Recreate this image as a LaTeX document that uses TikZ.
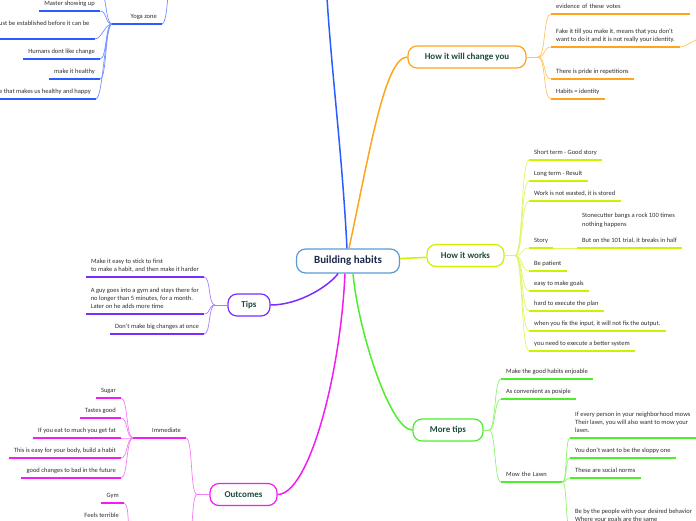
\documentclass[tikz,border=0pt]{standalone}
\usepackage{fontspec}
\setmainfont{Carlito}

\definecolor{rootline}{HTML}{5B9BD5}
\definecolor{roottext}{HTML}{1B2A48}
\definecolor{topictext}{HTML}{1D4B3B}
\definecolor{leaftext}{HTML}{2E2E2E}
\definecolor{bluB}{HTML}{2B5CFF}
\definecolor{bluL}{HTML}{7391FF}
\definecolor{oraB}{HTML}{FFA41E}
\definecolor{oraL}{HTML}{FFC460}
\definecolor{limB}{HTML}{CFF000}
\definecolor{limL}{HTML}{E0F560}
\definecolor{greB}{HTML}{4DEF2A}
\definecolor{greL}{HTML}{8CF470}
\definecolor{magB}{HTML}{F01EF0}
\definecolor{magL}{HTML}{F57AF5}
\definecolor{purB}{HTML}{7B2CFF}
\definecolor{purL}{HTML}{A87AFF}

\tikzset{
  root/.style={draw=rootline, line width=1.2pt, fill=white, rounded corners=9pt,
    minimum width=103pt, minimum height=24pt, text=roottext,
    font=\fontsize{11}{13}\selectfont\bfseries},
  topic/.style={draw=#1, line width=1.2pt, fill=white, rounded corners=9pt,
    minimum height=22pt, inner xsep=12pt, text=topictext,
    font=\fontsize{9}{11}\selectfont\bfseries},
  leaf/.style={inner xsep=5pt, inner ysep=2.5pt, text=leaftext, align=left,
    font=\fontsize{6.5}{8.3}\selectfont, execute at end node=\strut},
  rleaf/.style={leaf, anchor=south west},
  lleaf/.style={leaf, anchor=south east},
  branch/.style={line width=1.5pt, draw=#1},
  uline/.style={line width=1.5pt, draw=#1},
  twig/.style={line width=0.7pt, to path={.. controls +(#1,0) and +(-#1,0) .. (\tikztotarget)}},
}

\begin{document}
\begin{tikzpicture}[x=1pt, y=-1pt]
    \useasboundingbox (0,0) rectangle (696,520);

    \node[root] (root) at (348,261) {Building habits};
    \node[topic=oraB, minimum width=118pt] (change) at (467,57) {How it will change you};
    \node[topic=limB, minimum width=77pt] (works) at (465.5,255.5) {How it works};
    \node[topic=greB, minimum width=70pt] (more) at (448,430) {More tips};
    \node[topic=magB, minimum width=67pt] (outcomes) at (243.5,494.5) {Outcomes};
    \node[topic=purB, minimum width=42pt] (tips) at (249,305) {Tips};

    \coordinate (bTop) at (326,-20);
    \draw[branch=bluB] ([xshift=-1pt]root.north) .. controls (342,150) and (330,60) .. (bTop);
    \draw[branch=oraB] ([xshift=1pt]root.north) .. controls (370,150) and (385,57) .. (change.west);
    \draw[branch=limB] (root) -- (works);
    \draw[branch=greB] ([xshift=5pt]root.south) .. controls (358,330) and (390,430) .. (more.west);
    \draw[branch=magB] ([xshift=-3pt]root.south) .. controls (340,380) and (308,494.5) .. (outcomes.east);
    \draw[branch=purB] ([xshift=-10pt]root.south) .. controls (330,285) and (300,305) .. (tips.east);

    % how it will change you
    \coordinate (oF) at (538,57);
    \draw[oraL, line width=0.8pt] (change.east) -- (oF);
    \node[rleaf, text width=129pt] (c1) at (551,14) {evidence of these votes};
    \node[rleaf] (c2) at (551,47) {Fake it till you make it, means that you don't\\want to do it and it is not really your identity.};
    \node[rleaf] (c3) at (551,79) {There is pride in repetitions};
    \node[rleaf] (c4) at (551,99) {Habits = identity};
    \foreach \n in {c1,c2,c3,c4} {
        \draw[oraL, twig=8] (oF) to (\n.south west);
        \draw[uline=oraB] (\n.south west) -- (\n.south east);
    }
    \coordinate (oX) at (706,36);
    \draw[oraL, twig=6] (c2.south east) to (oX);

    % how it works
    \coordinate (wF) at (515,255.5);
    \draw[limL, line width=0.8pt] (works.east) -- (wF);
    \node[rleaf] (w1) at (529,160) {Short term - Good story};
    \node[rleaf] (w2) at (529,181) {Long term - Result};
    \node[rleaf] (w3) at (529,201) {Work is not wasted, it is stored};
    \node[rleaf] (w4) at (529,248) {Story};
    \node[rleaf] (w5) at (529,271) {Be patient};
    \node[rleaf] (w6) at (529,291) {easy to make goals};
    \node[rleaf] (w7) at (529,311) {hard to execute the plan};
    \node[rleaf] (w8) at (529,331) {when you fix the input, it will not fix the output.};
    \node[rleaf] (w9) at (529,351) {you need to execute a better system};
    \foreach \i in {1,...,9} {
        \draw[limL, twig=8] (wF) to (w\i.south west);
        \draw[uline=limB] (w\i.south west) -- (w\i.south east);
    }
    \node[rleaf] (s1) at (577,248) {Stonecutter bangs a rock 100 times\\nothing happens\\[8.3pt]But on the 101 trial, it breaks in half};
    \draw[limL, line width=0.8pt] (w4.south east) -- (s1.south west);
    \draw[uline=limB] (s1.south west) -- (s1.south east);

    % more tips
    \coordinate (mF) at (489,430);
    \draw[greL, line width=0.8pt] (more.east) -- (mF);
    \node[rleaf] (m1) at (501,379) {Make the good habits enjoable};
    \node[rleaf] (m2) at (501,399) {As convenient as posiple};
    \node[rleaf, text width=51pt] (m3) at (501,482) {Mow the Lawn};
    \foreach \n in {m1,m2,m3} {
        \draw[greL, twig=7] (mF) to (\n.south west);
        \draw[uline=greB] (\n.south west) -- (\n.south east);
    }
    \node[rleaf] (l1) at (570,438) {If every person in your neighborhood mows\\Their lawn, you will also want to mow your\\lawn.};
    \node[rleaf] (l2) at (570,458) {You don't want to be the sloppy one};
    \node[rleaf] (l3) at (570,478) {These are social norms};
    \node[rleaf] (l4) at (570,527) {Be by the people with your desired behavior\\Where your goals are the same};
    \foreach \n in {l1,l2,l3,l4} {
        \draw[greL, twig=5] (m3.south east) to (\n.south west);
        \draw[uline=greB] (\n.south west) -- (\n.south east);
    }

    % tips
    \coordinate (tF) at (215,305);
    \draw[purL, line width=0.8pt] (tips.west) -- (tF);
    \node[lleaf] (t1) at (204,277) {Make it easy to stick to first\\to make a habit, and then make it harder};
    \node[lleaf] (t2) at (204,314) {A guy goes into a gym and stays there for\\no longer than 5 minutes, for a month.\\Later on he adds more time};
    \node[lleaf] (t3) at (204,334) {Don't make big changes at once};
    \foreach \n in {t1,t2,t3} {
        \draw[purL, twig=-7] (tF) to (\n.south east);
        \draw[uline=purB] (\n.south west) -- (\n.south east);
    }

    % outcomes
    \coordinate (uF) at (197,494.5);
    \draw[magL, line width=0.8pt] (outcomes.west) -- (uF);
    \node[lleaf] (imm) at (186,438) {Immediate};
    \coordinate (iF) at (133,438);
    \coordinate (uX) at (186,575);
    \draw[magL, twig=-7] (uF) to (imm.south east);
    \draw[magL, twig=-7] (uF) to (uX);
    \draw[uline=magB] (iF) -- (imm.south east);
    \node[lleaf] (a1) at (121,398) {Sugar};
    \node[lleaf] (a2) at (121,418) {Tastes good};
    \node[lleaf] (a3) at (121,438) {If you eat to much you get fat};
    \node[lleaf] (a4) at (121,458) {This is easy for your body, build a habit};
    \node[lleaf] (a5) at (121,478) {good changes to bad in the future};
    \foreach \i in {1,...,5} {
        \draw[magL, twig=-7] (iF) to (a\i.south east);
        \draw[uline=magB] (a\i.south west) -- (a\i.south east);
    }
    \coordinate (gF) at (133,548);
    \node[lleaf] (g1) at (124,503) {Gym};
    \node[lleaf] (g2) at (124,523) {Feels terrible};
    \foreach \n in {g1,g2} {
        \draw[magL, twig=-7] (gF) to (\n.south east);
        \draw[uline=magB] (\n.south west) -- (\n.south east);
    }

    % yoga zone
    \node[lleaf] (yoga) at (162,24) {Yoga zone};
    \coordinate (yF) at (112,24);
    \coordinate (yUp) at (176,-60);
    \draw[bluL, twig=8] (yoga.south east) to (yUp);
    \draw[uline=bluB] (yF) -- (yoga.south east);
    \node[lleaf] (b1) at (100,11) {Master showing up};
    \node[rleaf] (b2) at (-6,39) {ust be established before it can be\\\null};
    \node[lleaf] (b3) at (100,59) {Humans dont like change};
    \node[lleaf] (b4) at (100,79) {make it healthy};
    \node[rleaf] (b5) at (-6,99) {e that makes us healthy and happy};
    \coordinate (b0) at (100,-9);
    \draw[bluL, twig=-7] (yF) to (b0);
    \foreach \n in {b1,b2,b3,b4,b5} {
        \draw[bluL, twig=-7] (yF) to (\n.south east);
        \draw[uline=bluB] (\n.south west) -- (\n.south east);
    }
\end{tikzpicture}
\end{document}
